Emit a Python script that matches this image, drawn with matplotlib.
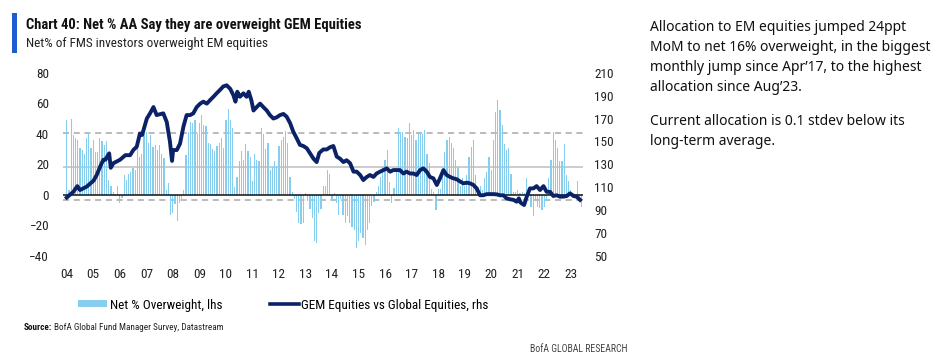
import matplotlib
matplotlib.use("Agg")
import matplotlib.pyplot as plt
from matplotlib import font_manager
from matplotlib.patches import Patch, Rectangle
from matplotlib.lines import Line2D
import numpy as np

# ---------------- data ----------------
start_year = 2004
net_overweight = [
    49, 3, 50, 39, 37.5, 36, 31, 29.4, 26.6, 37.5, 41, 31,
    36, 28, 28, 37.5, 35, 32.7, 35, 10, 5.5, 2, -1, 5.5,
    -5.5, -2, 13, 10, 14, 15, 17.4, 16, 38, 25, 27, 44.7,
    41, 33.8, 39, 31.6, 32.7, 29.4, 32.7, 27, 24, 3, 7.6, -13,
    -12, -6, -17.4, -5, -3, 3, 26, 41, 48, 47, 49, 40,
    47, 52, 46, 45, 34, 33, 30, 29, 32, 34, 37, 31,
    49, 56, 49, 44, 5, 12, 22, 29, 23, 33, 29, 25,
    9, 27, 23, 22, 44, 40, 30, 34, 16, 18, 22, 19,
    32, 36, 38, 42, 34, 12, 2, -3, -11, -18.5, -19, -18.5,
    1, -4, -9, -15, -30.5, -31.5, -12, -9, 5.5, 5.5, 16, 14,
    -3, 1, -5, -13, -3, -13, -18.5, -14, -18.5, -21, -23, -35,
    -30, -25, -28, -33, -23, -18.5, -7.5, -4.5, 2, 5.5, 12, 18.5,
    23, 29.5, 8.7, -5.5, 4.5, 15, 43.5, 41, 41, 38, 37, 47,
    39, 42.5, 36, 40, 40, 40, 42.5, 27, 21, 4, 2, -10,
    4, 4, 16, 28, 36, 38, 34, 31, 23, 18, 6, 11,
    6, 13, 25, 31.6, 36, 13, 5, 6, 3, 11, 15, 25,
    16, 36, 54.5, 62, 55.5, 45.7, 33, 29.4, 30.5, 14, 2, 2,
    3, 1, 2, 1, 11, 2, -7.6, -14, -4, -7.6, -8.7, -9.8,
    -8, -4, 11, 23, 41, 36, 30.5, 22, 22, 33, 13, 9,
    3, 1, -2, 9, -4, -7.6,
]

gem_dates = [
    2004.00, 2004.25, 2004.40, 2004.50, 2004.75, 2005.01, 2005.13, 2005.26, 2005.38, 2005.46,
    2005.53, 2005.60, 2005.66, 2005.76, 2006.01, 2006.21, 2006.39, 2006.51, 2006.64, 2006.76,
    2006.84, 2007.02, 2007.14, 2007.27, 2007.39, 2007.64, 2007.77, 2007.89, 2007.97, 2008.01,
    2008.15, 2008.27, 2008.40, 2008.52, 2008.65, 2008.77, 2008.90, 2009.03, 2009.15, 2009.28,
    2009.40, 2009.53, 2009.65, 2009.78, 2009.90, 2010.03, 2010.16, 2010.28, 2010.36, 2010.43,
    2010.53, 2010.66, 2010.78, 2010.86, 2010.96, 2011.04, 2011.16, 2011.29, 2011.41, 2011.54,
    2011.66, 2011.79, 2011.91, 2012.04, 2012.17, 2012.29, 2012.42, 2012.54, 2012.67, 2012.79,
    2012.92, 2013.05, 2013.17, 2013.30, 2013.42, 2013.52, 2013.67, 2013.80, 2013.93, 2014.05,
    2014.18, 2014.30, 2014.43, 2014.55, 2014.68, 2014.81, 2014.93, 2015.06, 2015.18, 2015.31,
    2015.43, 2015.56, 2015.68, 2015.81, 2015.94, 2016.06, 2016.19, 2016.31, 2016.44, 2016.56,
    2016.69, 2016.81, 2016.94, 2017.07, 2017.19, 2017.32, 2017.44, 2017.57, 2017.69, 2017.82,
    2017.95, 2018.07, 2018.20, 2018.32, 2018.45, 2018.57, 2018.70, 2018.83, 2018.95, 2019.08,
    2019.20, 2019.33, 2019.45, 2019.58, 2019.70, 2019.83, 2019.96, 2020.08, 2020.21, 2020.33,
    2020.46, 2020.58, 2020.71, 2020.84, 2020.96, 2021.04, 2021.11, 2021.24, 2021.34, 2021.46,
    2021.59, 2021.71, 2021.84, 2021.97, 2022.09, 2022.22, 2022.34, 2022.47, 2022.59, 2022.72,
    2022.85, 2022.97, 2023.10, 2023.22, 2023.35,
]
gem_vs_global = [
    101, 106, 111, 107.6, 110.5, 115.7, 120.7, 128, 134, 134,
    137, 139.6, 127, 131, 134, 138, 138, 142.5, 145.4, 157,
    155.6, 170, 174.5, 180, 173, 174.5, 167, 150, 133, 142.5,
    142.5, 148, 163, 173, 173, 174.5, 180, 183, 184.7, 183,
    186, 189, 192, 195, 198, 199, 196, 190.5, 184.7, 193.4,
    189, 192, 189, 193.4, 186, 177, 180, 183, 180, 177,
    173, 170, 171, 173, 174, 171.6, 166, 158.5, 152.7, 147,
    146, 144, 139.6, 135, 132, 140, 143, 143, 145, 146,
    136.7, 135, 132, 133.6, 131, 123.6, 123.6, 120.7, 116.3, 119,
    120.7, 119, 122, 123.6, 125, 126.5, 123.6, 125, 125, 125,
    122, 123.6, 122, 122, 120.7, 125, 126.5, 123.6, 119, 117.8,
    112, 117.8, 125, 120.7, 119, 117.8, 117, 115, 113.4, 114,
    113.4, 112, 109, 103, 103, 104, 104, 104, 103.8, 103,
    103, 100.3, 99.5, 99, 97.4, 100.3, 96.5, 94.5, 101.8, 109,
    109, 111, 107.6, 111, 106, 106, 102.4, 103, 101.8, 101.8,
    102.4, 104.7, 102.4, 101.8, 99,
]

lt_average = 18.5
lt_stdev = 21.8

year_ticks = list(range(2004, 2024))
year_labels = ["%02d" % (y % 100) for y in year_ticks]
lhs_ticks = [-40, -20, 0, 20, 40, 60, 80]
rhs_ticks = [50, 70, 90, 110, 130, 150, 170, 190, 210]

title = "Chart 40: Net % AA Say they are overweight GEM Equities"
subtitle = "Net% of FMS investors overweight EM equities"
bar_label = "Net % Overweight, lhs"
line_label = "GEM Equities vs Global Equities, rhs"
comment1 = ("Allocation to EM equities jumped 24ppt\n"
            "MoM to net 16% overweight, in the biggest\n"
            "monthly jump since Apr\u201917, to the highest\n"
            "allocation since Aug\u201923.")
comment2 = ("Current allocation is 0.1 stdev below its\n"
            "long-term average.")

# ---------------- fonts ----------------
def pick(cands):
    for c in cands:
        try:
            font_manager.findfont(c, fallback_to_default=False)
            return c
        except Exception:
            pass
    return "DejaVu Sans"

narrow = pick(["Liberation Sans Narrow", "Roboto Condensed", "Liberation Sans"])
body = pick(["Noto Sans", "Open Sans", "Lato"])

BAR_C = "#86cdee"
LINE_C = "#0b2266"
TXT = "#222222"

W, H = 950, 364
fig = plt.figure(figsize=(W / 100, H / 100), dpi=100)

def fx(px):
    return px / W

def fy(py):
    return 1 - py / H

ax = fig.add_axes([fx(63), fy(256), fx(583) - fx(63), fy(72.7) - fy(256)])
ax2 = ax.twinx()

x_bars = start_year + np.arange(len(net_overweight)) / 12.0
ax.bar(x_bars, net_overweight, width=0.55 / 12, color=BAR_C, linewidth=0, zorder=2)

ax.axhline(lt_average, color="#c8c8c8", lw=1.3, zorder=1)
ax.axhline(lt_average + lt_stdev, color="#a8a8a8", lw=1.1, ls=(0, (4, 3)), zorder=1)
ax.axhline(lt_average - lt_stdev, color="#a8a8a8", lw=1.1, ls=(0, (4, 3)), zorder=1)
ax.axhline(0, color="#111111", lw=1.1, zorder=3)

ax2.plot(gem_dates, gem_vs_global, color=LINE_C, lw=2.8, solid_joinstyle="round", zorder=4)

ax.set_xlim(2003.86, 2023.46)
ax.set_ylim(-40, 80)
ax2.set_ylim(50, 210)
ax.set_yticks(lhs_ticks)
ax2.set_yticks(rhs_ticks)
ax.set_xticks(year_ticks)
ax.set_xticklabels(year_labels)

for a in (ax, ax2):
    for s in a.spines.values():
        s.set_visible(False)
    a.tick_params(length=0, labelsize=9.5, labelcolor=TXT)
    for lab in a.get_xticklabels() + a.get_yticklabels():
        lab.set_fontfamily(narrow)
ax.tick_params(axis="y", pad=10)
ax.tick_params(axis="x", pad=9)
ax2.tick_params(axis="y", pad=8)
ax.set_facecolor("none")

# header
fig.add_artist(Rectangle((fx(12), fy(53)), fx(5), fy(13) - fy(53), transform=fig.transFigure,
                         color="#1f5bd1", lw=0))
fig.text(fx(26), fy(25), title, fontsize=10.5, fontweight="bold", family=narrow,
         color="#111111", va="center")
fig.text(fx(26), fy(44), subtitle, fontsize=9.5, family=narrow, color=TXT, va="center")

# legend
handles = [Patch(facecolor=BAR_C, edgecolor="none"),
           Line2D([0], [0], color=LINE_C, lw=2.6)]
fig.legend(handles, [bar_label, line_label], loc="center left",
           bbox_to_anchor=(fx(78), fy(305)), ncol=2, frameon=False,
           prop={"family": narrow, "size": 9.5}, handlelength=2.2, handleheight=0.45,
           handletextpad=0.2, columnspacing=3.6, borderpad=0, borderaxespad=0)

# source
fig.text(fx(24), fy(328), "Source:", fontsize=6.6, fontweight="bold", family=narrow,
         color="#111111", va="center")
fig.text(fx(54), fy(328), "BofA Global Fund Manager Survey, Datastream", fontsize=6.6,
         family=narrow, color=TXT, va="center")
fig.text(fx(628), fy(349), "BofA GLOBAL RESEARCH", fontsize=7, family=narrow,
         color="#444444", va="center", ha="right")

# commentary
fig.text(fx(650), fy(20), comment1, fontsize=10, family=body, color="#111111",
         va="top", linespacing=1.45)
fig.text(fx(650), fy(114), comment2, fontsize=10, family=body, color="#111111",
         va="top", linespacing=1.45)

fig.savefig("out.png", dpi=100)
